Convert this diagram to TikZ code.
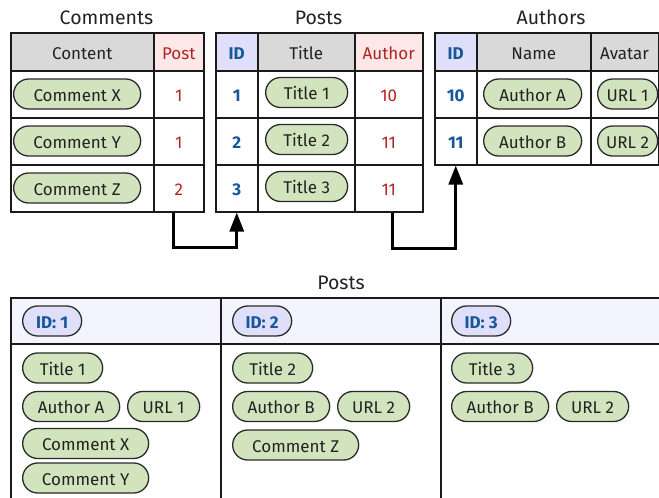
\documentclass[tikz,border=0pt]{standalone}
\usepackage{fontspec}
\setmainfont{Fira Sans}
\usetikzlibrary{arrows.meta}

\definecolor{ink}{HTML}{222222}
\definecolor{gridline}{HTML}{1A1A1A}
\definecolor{hdgray}{HTML}{D9D9D9}
\definecolor{hdred}{HTML}{FDE7E7}
\definecolor{hdblue}{HTML}{DFDFF9}
\definecolor{hdpale}{HTML}{F4F4FE}
\definecolor{pillgreen}{HTML}{D2E4BE}
\definecolor{pillline}{HTML}{2A2A2A}
\definecolor{numred}{HTML}{B22222}
\definecolor{idblue}{HTML}{17579B}

\begin{document}
\begin{tikzpicture}[x=1pt,y=-1pt,
  font=\fontsize{17}{19}\selectfont,
  cell/.style={draw=gridline, line width=1.5pt, anchor=north west, inner sep=0pt,
               text height=14.5pt, text depth=0pt, text=ink},
  hrow/.style={cell, minimum height=38pt},
  brow/.style={cell, minimum height=47pt},
  redtxt/.style={text=numred},
  idtxt/.style={text=idblue, font=\fontsize{17}{19}\selectfont\bfseries},
  pill/.style={draw=pillline, fill=pillgreen, line width=1.3pt, rectangle,
               rounded corners=15pt, minimum height=30pt, inner sep=0pt,
               anchor=west, text height=14.5pt, text depth=0pt, text=ink},
  idpill/.style={pill, fill=hdblue, text=idblue,
                 font=\fontsize{17}{19}\selectfont\bfseries},
  tabletitle/.style={anchor=base, font=\fontsize{19.5}{22}\selectfont, text=ink, inner sep=0pt},
  link/.style={draw=black, line width=3pt, -{Triangle[length=19pt,width=14pt]}}
]
\useasboundingbox (0,0) rectangle (659,498);
\clip (0,0) rectangle (659,498);

% ---------- Comments table ----------
\node[tabletitle] (tComments) at (106.5,24) {Comments};
\node[hrow, fill=hdgray, minimum width=143pt] (cH1) at (10,32) {Content};
\node[hrow, fill=hdred, redtxt, minimum width=50pt] (cH2) at (153,32) {Post};
\node[brow, minimum width=143pt] (cC1) at (10,70) {};
\node[brow, redtxt, minimum width=50pt] (cP1) at (153,70) {1};
\node[brow, minimum width=143pt] (cC2) at (10,117) {};
\node[brow, redtxt, minimum width=50pt] (cP2) at (153,117) {1};
\node[brow, minimum width=143pt] (cC3) at (10,164) {};
\node[brow, redtxt, minimum width=50pt] (cP3) at (153,164) {2};
\node[pill, minimum width=127pt] (cX) at (13,94) {Comment X};
\node[pill, minimum width=127pt] (cY) at (13,141) {Comment Y};
\node[pill, minimum width=127pt] (cZ) at (13,188) {Comment Z};

% ---------- Posts table ----------
\node[tabletitle] (tPosts) at (318.5,24) {Posts};
\node[hrow, fill=hdblue, idtxt, minimum width=42pt] (pH1) at (215,32) {ID};
\node[hrow, fill=hdgray, minimum width=97pt] (pH2) at (257,32) {Title};
\node[hrow, fill=hdred, redtxt, minimum width=68pt] (pH3) at (354,32) {Author};
\node[brow, idtxt, minimum width=42pt] (pId1) at (215,70) {1};
\node[brow, minimum width=97pt] (pT1) at (257,70) {};
\node[brow, redtxt, minimum width=68pt] (pA1) at (354,70) {10};
\node[brow, idtxt, minimum width=42pt] (pId2) at (215,117) {2};
\node[brow, minimum width=97pt] (pT2) at (257,117) {};
\node[brow, redtxt, minimum width=68pt] (pA2) at (354,117) {11};
\node[brow, idtxt, minimum width=42pt] (pId3) at (215,164) {3};
\node[brow, minimum width=97pt] (pT3) at (257,164) {};
\node[brow, redtxt, minimum width=68pt] (pA3) at (354,164) {11};
\node[pill, minimum width=82pt] (pTitle1) at (265,92.5) {Title 1};
\node[pill, minimum width=82pt] (pTitle2) at (265,139.5) {Title 2};
\node[pill, minimum width=82pt] (pTitle3) at (265,186.5) {Title 3};

% ---------- Authors table ----------
\node[tabletitle] (tAuthors) at (551,24) {Authors};
\node[hrow, fill=hdblue, idtxt, minimum width=42pt] (aH1) at (434,32) {ID};
\node[hrow, fill=hdgray, minimum width=114pt] (aH2) at (476,32) {Name};
\node[hrow, fill=hdgray, minimum width=67.5pt] (aH3) at (590,32) {Avatar};
\node[brow, idtxt, minimum width=42pt] (aId1) at (434,70) {10};
\node[brow, minimum width=114pt] (aN1) at (476,70) {};
\node[brow, minimum width=67.5pt] (aV1) at (590,70) {};
\node[brow, idtxt, minimum width=42pt] (aId2) at (434,117) {11};
\node[brow, minimum width=114pt] (aN2) at (476,117) {};
\node[brow, minimum width=67.5pt] (aV2) at (590,117) {};
\node[pill, minimum width=98pt] (aNameA) at (483,94) {Author A};
\node[pill, minimum width=98pt] (aNameB) at (483,141) {Author B};
\node[pill, minimum width=60pt] (aUrl1) at (597,94) {URL 1};
\node[pill, minimum width=60pt] (aUrl2) at (597,141) {URL 2};
\draw[draw=gridline, line width=1.5pt] (aH3.north east) -- (aV2.south east);

% ---------- foreign-key links ----------
\draw[link] ([xshift=-5pt]cP3.south) -- ++(0,35) -| (pId3.south);
\draw[link] ([xshift=4pt]pA3.south) -- ++(0,36) -| (aId2.south);

% ---------- Posts as documents ----------
\node[tabletitle] (tDocs) at (341,289) {Posts};
\node[cell, fill=hdpale, minimum width=210pt, minimum height=46pt] (dH1) at (10,297) {};
\node[cell, fill=hdpale, minimum width=220pt, minimum height=46pt] (dH2) at (220,297) {};
\node[cell, fill=hdpale, minimum width=240pt, minimum height=46pt] (dH3) at (440,297) {};
\node[cell, minimum width=210pt, minimum height=154.5pt] (dB1) at (10,343) {};
\node[cell, minimum width=220pt, minimum height=154.5pt] (dB2) at (220,343) {};
\node[cell, minimum width=240pt, minimum height=154.5pt] (dB3) at (440,343) {};

\node[idpill, minimum width=59pt] (dId1) at (22,321) {ID: 1};
\node[idpill, minimum width=59pt] (dId2) at (232,321) {ID: 2};
\node[idpill, minimum width=59pt] (dId3) at (451,321) {ID: 3};

\node[pill, minimum width=80pt] (d1Title) at (22,368) {Title 1};
\node[pill, minimum width=97pt] (d1Author) at (22,406.5) {Author A};
\node[pill, minimum width=72pt] (d1Url) at (127,406.5) {URL 1};
\node[pill, minimum width=126pt] (d1CX) at (22,443.5) {Comment X};
\node[pill, minimum width=126pt] (d1CY) at (22,478) {Comment Y};

\node[pill, minimum width=80pt] (d2Title) at (232,368) {Title 2};
\node[pill, minimum width=97pt] (d2Author) at (232,406.5) {Author B};
\node[pill, minimum width=72pt] (d2Url) at (337,406.5) {URL 2};
\node[pill, minimum width=126pt] (d2CZ) at (232,445) {Comment Z};

\node[pill, minimum width=81pt] (d3Title) at (451,368) {Title 3};
\node[pill, minimum width=97pt] (d3Author) at (451,406.5) {Author B};
\node[pill, minimum width=72pt] (d3Url) at (556,406.5) {URL 2};
\end{tikzpicture}
\end{document}
